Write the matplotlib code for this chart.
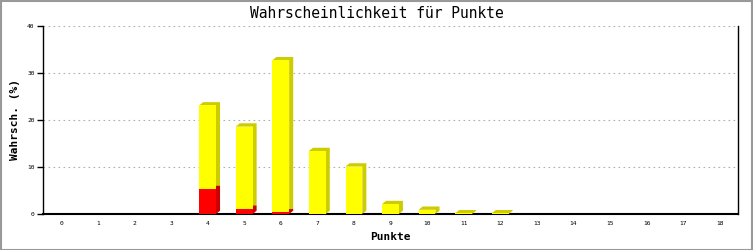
import numpy as np
import matplotlib
matplotlib.use('Agg')
import matplotlib.pyplot as plt
from matplotlib.patches import Polygon, Rectangle

# Daten
punkte = list(range(19))
gesamt = [0, 0, 0, 0, 23.1, 18.6, 32.7, 13.4, 10.1, 2.1, 0.9, 0.15, 0.15,
          0, 0, 0, 0, 0, 0]
rot = [0, 0, 0, 0, 5.3, 1.1, 0.35, 0, 0, 0, 0, 0, 0,
       0, 0, 0, 0, 0, 0]

plt.rcParams['font.family'] = ['DejaVu Sans Mono']

fig = plt.figure(figsize=(7.53, 2.5), dpi=100)
fig.patch.set_facecolor('white')
ax = fig.add_axes([43/753, 36/250, 695/753, 188/250])

breite = 0.46
dx = 0.11   # 3D Tiefe in x (Datenkoordinaten)
dy = 0.7    # 3D Tiefe in y


def balken(x, unten, oben, farbe, seite):
    x0 = x - breite/2
    x1 = x + breite/2
    # Seite + Deckel (dunkel)
    ax.add_patch(Polygon([(x0, oben), (x0+dx, oben+dy), (x1+dx, oben+dy),
                          (x1+dx, unten+dy), (x1, unten), (x1, oben)],
                         closed=True, facecolor=seite, edgecolor='none', zorder=3))
    # Front
    ax.add_patch(Rectangle((x0, unten), breite, oben-unten,
                           facecolor=farbe, edgecolor='none', zorder=4))


for x, g, r in zip(punkte, gesamt, rot):
    if g <= 0:
        continue
    balken(x, r, g, '#ffff00', '#cccc00')
    if r > 0:
        balken(x, 0, r, '#ff0000', '#cc0000')

ax.set_xlim(-0.5, 18.5)
ax.set_ylim(0, 40)
ax.set_xticks(punkte)
ax.set_xticklabels([str(p) for p in punkte], fontsize=4.5)
ax.set_yticks([0, 10, 20, 30, 40])
ax.set_yticklabels(['0', '10', '20', '30', '40'], fontsize=4.5)
ax.tick_params(axis='x', length=0, pad=5)
ax.tick_params(axis='y', length=4, width=1, pad=2)

ax.yaxis.grid(True, linestyle=(0, (1.5, 3)), color='#b0b0b0', linewidth=0.8)
ax.set_axisbelow(True)
ax.spines['top'].set_visible(False)
for s in ['left', 'right', 'bottom']:
    ax.spines[s].set_color('black')
ax.spines['bottom'].set_linewidth(1.5)
ax.spines['left'].set_linewidth(1)
ax.spines['right'].set_linewidth(1)

fig.text(0.5, 1 - 13/250, 'Wahrscheinlichkeit für Punkte', fontsize=10.5,
         ha='center', va='center')
ax.set_xlabel('Punkte', fontsize=8, fontweight='bold', labelpad=4)
ax.set_ylabel('Wahrsch. (%)', fontsize=8, fontweight='bold', labelpad=5)

# grauer Rahmen ums Bild
fig.patches.append(Rectangle((0.001, 0.002), 0.998, 0.996, transform=fig.transFigure,
                             fill=False, edgecolor='#999999', linewidth=1.5))

fig.savefig('out.png', dpi=100)
